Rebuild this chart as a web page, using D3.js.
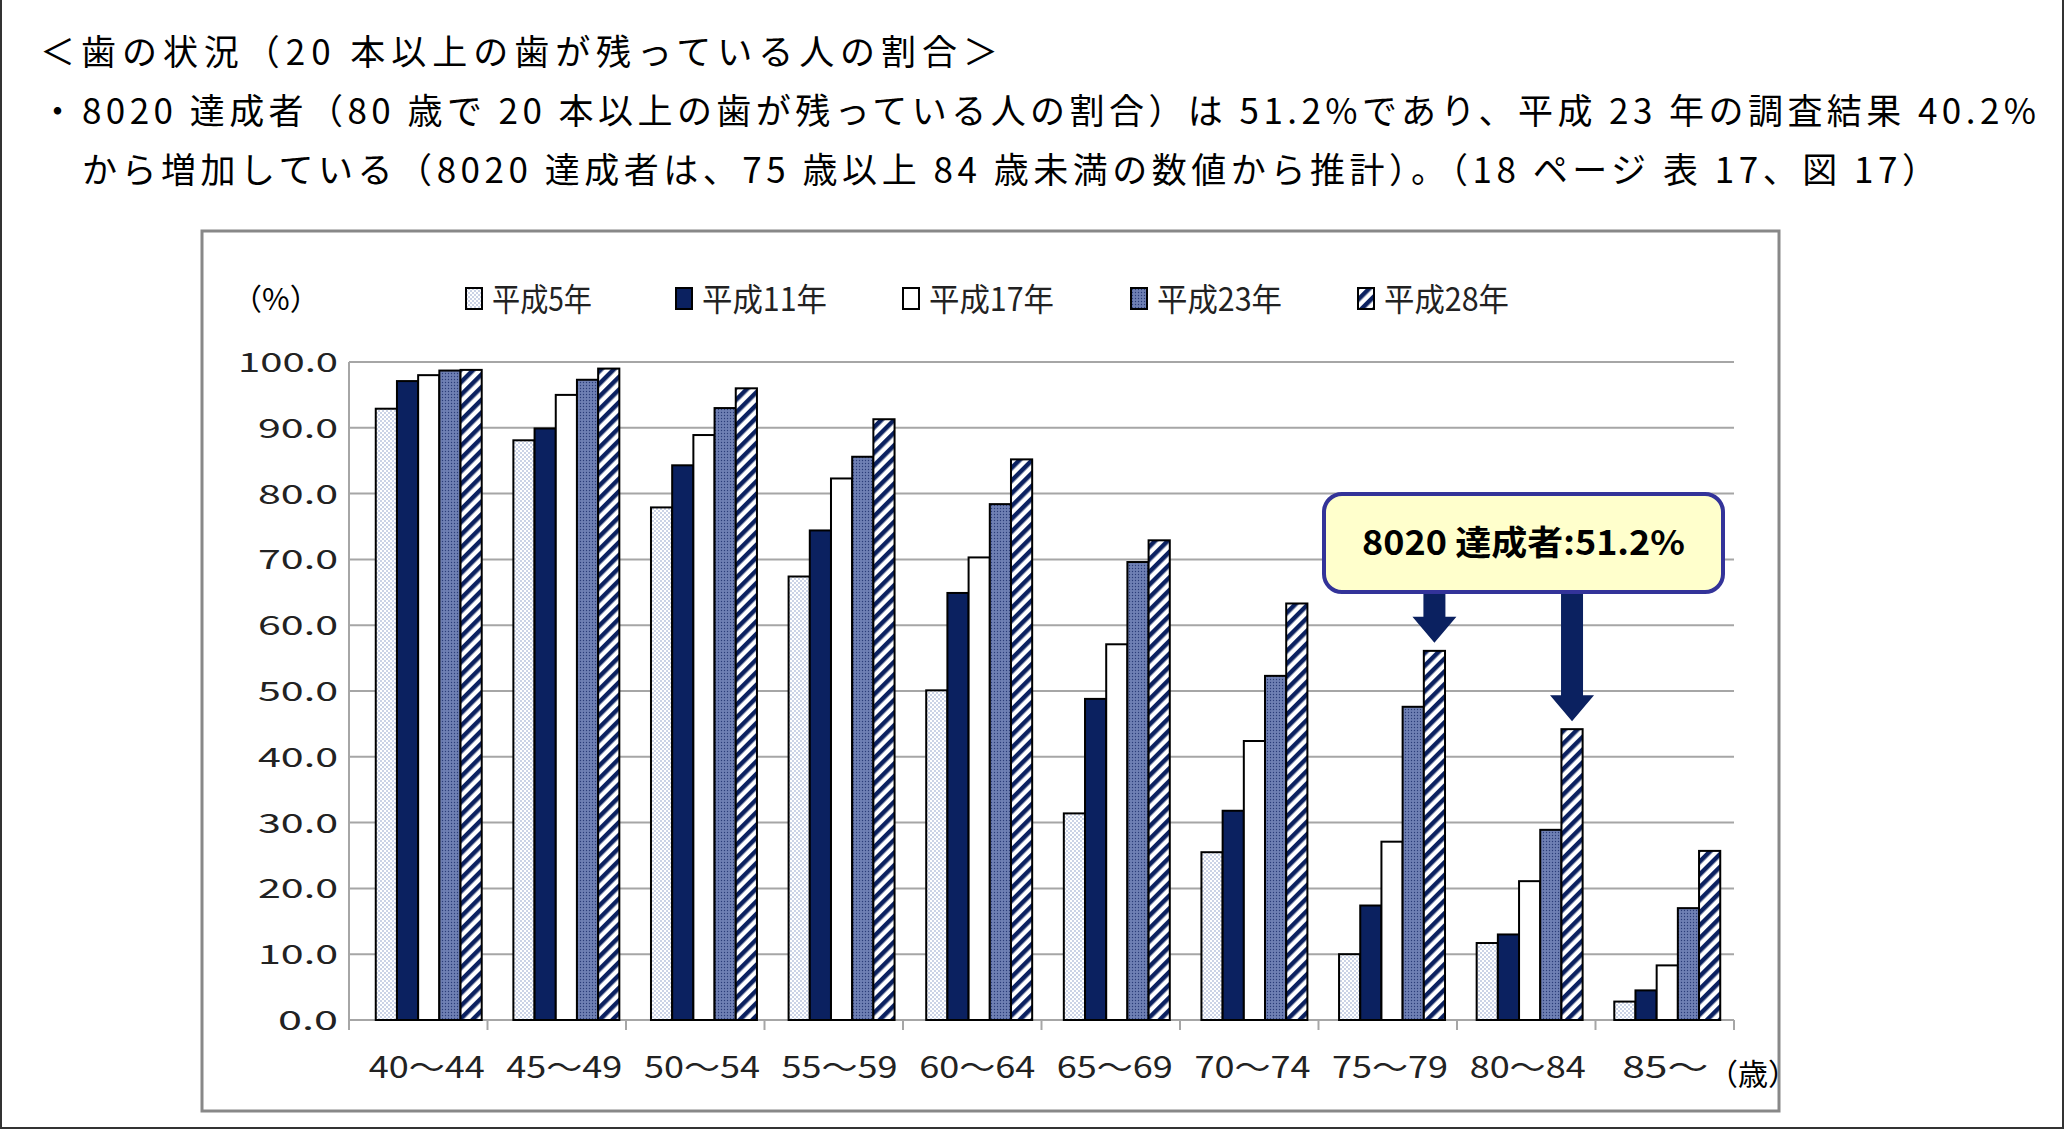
<!doctype html>
<html><head><meta charset="utf-8">
<script src="https://cdn.jsdelivr.net/npm/d3@7"></script>
<style>body{margin:0;background:#fff}svg{display:block;font-family:"Noto Sans CJK JP",sans-serif}</style>
</head><body>
<svg id="c" width="2066" height="1132"></svg>
<script>
// data
var categories = ["40～44","45～49","50～54","55～59","60～64","65～69","70～74","75～79","80～84","85～"];
var seriesNames = ["平成5年","平成11年","平成17年","平成23年","平成28年"];
var h5  = [92.9, 88.1, 77.9, 67.4, 50.1, 31.4, 25.5, 10.0, 11.7, 2.8];
var h11 = [97.1, 89.9, 84.3, 74.4, 64.9, 48.8, 31.8, 17.4, 13.0, 4.5];
var h17 = [98.0, 95.0, 88.9, 82.3, 70.3, 57.1, 42.4, 27.1, 21.1, 8.3];
var h23 = [98.7, 97.3, 93.0, 85.6, 78.4, 69.6, 52.3, 47.6, 28.9, 17.0];
var h28 = [98.8, 99.0, 96.0, 91.3, 85.2, 72.9, 63.3, 56.1, 44.2, 25.7];
var yTicks = [0,10,20,30,40,50,60,70,80,90,100];
var series = [h5, h11, h17, h23, h28];

var svg = d3.select("#c");
var navy = "#0b2160";

// patterns
var defs = svg.append("defs");
var p0 = defs.append("pattern").attr("id","p0").attr("patternUnits","userSpaceOnUse").attr("width",4).attr("height",4);
p0.append("rect").attr("width",4).attr("height",4).attr("fill","#fff");
p0.append("circle").attr("cx",1).attr("cy",1).attr("r",0.8).attr("fill","#8a9cc8");
p0.append("circle").attr("cx",3).attr("cy",3).attr("r",0.8).attr("fill","#8a9cc8");
var p3 = defs.append("pattern").attr("id","p3").attr("patternUnits","userSpaceOnUse").attr("width",3).attr("height",3);
p3.append("rect").attr("width",3).attr("height",3).attr("fill","#6f80b4");
p3.append("circle").attr("cx",1.5).attr("cy",1.5).attr("r",0.7).attr("fill","#2a3c78");
var p4 = defs.append("pattern").attr("id","p4").attr("patternUnits","userSpaceOnUse").attr("width",9).attr("height",9).attr("patternTransform","rotate(45)");
p4.append("rect").attr("width",9).attr("height",9).attr("fill","#fff");
p4.append("rect").attr("width",4.5).attr("height",9).attr("fill",navy);
var fills = ["url(#p0)", navy, "#fff", "url(#p3)", "url(#p4)"];

// page frame
svg.append("rect").attr("x",1).attr("y",-2).attr("width",2062).attr("height",1130).attr("fill","none").attr("stroke","#333").attr("stroke-width",2);

// header text
function hdr(x0, y0, len, s){
  svg.append("text").attr("x",x0).attr("y",y0).attr("font-size",35)
    .attr("textLength",len).attr("lengthAdjust","spacing").text(s);
}
hdr(40, 65, 958, "＜歯の状況（20 本以上の歯が残っている人の割合＞");
svg.append("text").attr("x",40).attr("y",124).attr("font-size",35).text("・");
hdr(82, 124, 1954, "8020 達成者（80 歳で 20 本以上の歯が残っている人の割合）は 51.2%であり、平成 23 年の調査結果 40.2%");
hdr(82, 183, 1855, "から増加している（8020 達成者は、75 歳以上 84 歳未満の数値から推計）。（18 ページ  表 17、図 17）");

// chart frame
svg.append("rect").attr("x",202).attr("y",231).attr("width",1577).attr("height",880).attr("fill","#fff").attr("stroke","#888").attr("stroke-width",3);

var L = 349, R = 1734, T = 362, B = 1020;
var x = d3.scaleBand().domain(categories).range([L+13,R]).paddingInner(0.23).paddingOuter(0.1);
var y = d3.scaleLinear().domain([0,100]).range([B,T]);
var xs = d3.scaleBand().domain(d3.range(5)).range([0,x.bandwidth()]);

// grid
svg.append("g").selectAll("line").data(yTicks).join("line")
  .attr("x1",L).attr("x2",R).attr("y1",d=>y(d)).attr("y2",d=>y(d))
  .attr("stroke","#a6a6a6").attr("stroke-width",2);
svg.append("line").attr("x1",L).attr("x2",L).attr("y1",T).attr("y2",B).attr("stroke","#a6a6a6").attr("stroke-width",2);
svg.append("g").selectAll("text").data(yTicks).join("text")
  .attr("x",338).attr("y",d=>y(d)+10).attr("text-anchor","end").attr("font-size",27).attr("fill","#222")
  .attr("textLength",d=>d.toFixed(1).length*20).attr("lengthAdjust","spacingAndGlyphs")
  .text(d=>d.toFixed(1));

// category ticks
var step = (R-L)/categories.length;
svg.append("g").selectAll("line").data(d3.range(categories.length+1)).join("line")
  .attr("x1",d=>L+d*step).attr("x2",d=>L+d*step).attr("y1",B).attr("y2",B+10)
  .attr("stroke","#a6a6a6").attr("stroke-width",2);
svg.append("g").selectAll("text").data(categories).join("text")
  .attr("x",d=>x(d)+x.bandwidth()/2 - 2).attr("y",1078).attr("text-anchor","middle").attr("font-size",30).attr("fill","#222")
  .attr("textLength",d=>d.length>3?116:86).attr("lengthAdjust","spacingAndGlyphs").text(d=>d);
svg.append("text").attr("x",1708).attr("y",1085).attr("font-size",30).text("（歳）");
svg.append("text").attr("x",232).attr("y",310).attr("font-size",30).text("（%）");

// bars
series.forEach(function(s,i){
  svg.append("g").selectAll("rect").data(s).join("rect")
    .attr("x",(d,j)=>x(categories[j])+xs(i)).attr("width",xs.bandwidth())
    .attr("y",d=>y(d)).attr("height",d=>B-y(d))
    .attr("fill",fills[i]).attr("stroke","#000").attr("stroke-width",2);
});

// legend
var lx = [466, 676, 903, 1131, 1358];
seriesNames.forEach(function(n,i){
  svg.append("rect").attr("x",lx[i]).attr("y",288).attr("width",16).attr("height",21)
    .attr("fill",fills[i]).attr("stroke","#000").attr("stroke-width",2);
  svg.append("text").attr("x",lx[i]+26).attr("y",311).attr("font-size",32).attr("fill","#222")
    .attr("textLength",n.length*25).attr("lengthAdjust","spacingAndGlyphs").text(n);
});

// callout
var bx = 1324, by = 494, bw = 399, bh = 98;
function arrow(cx, yEnd){
  var sw = 11, hw = 22, hh = 26;
  svg.append("path").attr("fill",navy)
    .attr("d", "M"+(cx-sw)+","+(by+bh)+"V"+(yEnd-hh)+"H"+(cx-hw)+"L"+cx+","+yEnd+"L"+(cx+hw)+","+(yEnd-hh)+"H"+(cx+sw)+"V"+(by+bh)+"Z");
}
var tip = 8;
arrow(x("75～79")+xs(4)+xs.bandwidth()/2, y(h28[7])-tip);
arrow(x("80～84")+xs(4)+xs.bandwidth()/2, y(h28[8])-tip);
svg.append("rect").attr("x",bx).attr("y",by).attr("width",bw).attr("height",bh).attr("rx",18)
  .attr("fill","#ffffcc").attr("stroke","#333399").attr("stroke-width",4);
svg.append("text").attr("x",bx+bw/2).attr("y",by+bh/2+12).attr("text-anchor","middle")
  .attr("font-size",34).attr("font-weight","bold")
  .attr("textLength",323).attr("lengthAdjust","spacingAndGlyphs").text("8020 達成者:51.2%");
</script>
</body></html>
